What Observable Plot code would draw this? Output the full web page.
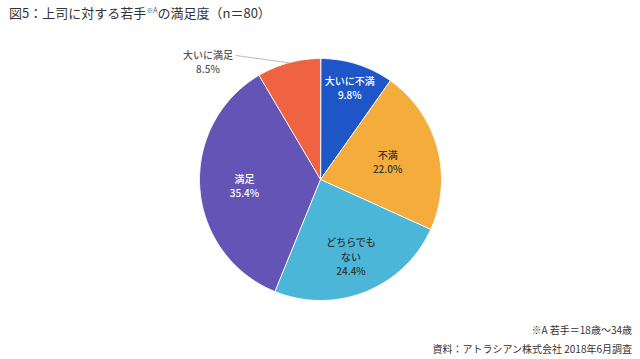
<!DOCTYPE html>
<html>
<head>
<meta charset="utf-8">
<script src="https://cdn.jsdelivr.net/npm/d3@7"></script>
<script src="https://cdn.jsdelivr.net/npm/@observablehq/plot@0.6"></script>
<style>
  html, body { margin: 0; padding: 0; background: #fff; }
  body { width: 640px; height: 359px; position: relative; overflow: hidden;
         font-family: "Noto Sans CJK JP", "Noto Sans", sans-serif; color: #333; }
  #chart { position: absolute; left: 0; top: 0; }
  #title { position: absolute; left: 9px; top: 3px; font-size: 13px; color: #333; white-space: nowrap; }
  #title sup { font-size: 7px; vertical-align: 5px; color: #555; }
  #caption { position: absolute; right: 8px; top: 320px; font-size: 10px; line-height: 19px; text-align: right; color: #333; }
</style>
</head>
<body>
<div id="chart"></div>
<div id="title">図5：上司に対する若手<sup>※A</sup>の満足度（n＝80）</div>
<div id="caption">※A 若手＝18歳〜34歳<br>資料：アトラシアン株式会社 2018年6月調査</div>
<script>
// ---- data ----
const categories = ["大いに不満", "不満", "どちらでもない", "満足", "大いに満足"];
const values = [9.8, 22.0, 24.4, 35.4, 8.5];
const labelLines = [["大いに不満"], ["不満"], ["どちらでも", "ない"], ["満足"], ["大いに満足"]];
const colors = ["#1f56c7", "#f4ad3c", "#4cb6d9", "#6354b6", "#ef6342"];

// ---- layout constants (not data) ----
const W = 640, H = 359, cx = 320, cy = 179, R = 121;
const labelRadius = [0.80, 0.575, 0.68, 0.63, null]; // fraction of radius for inside labels
const textColors = ["#fff", "#333", "#333", "#fff", "#555"];
const outsideLabelPos = {x: -0.93, y: 0.975};
const leaderStart = {x: -0.70, y: 1.025};

const arcs = d3.pie().sort(null).value(d => d)(values);

// pie slice polygons
const slicePts = [];
arcs.forEach((a, i) => {
  slicePts.push({key: categories[i], x: 0, y: 0});
  const n = Math.max(2, Math.ceil((a.endAngle - a.startAngle) / (Math.PI / 360)));
  for (let k = 0; k <= n; k++) {
    const t = a.startAngle + (a.endAngle - a.startAngle) * k / n;
    slicePts.push({key: categories[i], x: Math.sin(t), y: Math.cos(t)});
  }
});

// labels
const labels = arcs.map((a, i) => {
  const mid = (a.startAngle + a.endAngle) / 2;
  const text = labelLines[i].join("\n") + "\n" + values[i].toFixed(1) + "%";
  if (labelRadius[i] == null) {
    return {text, x: outsideLabelPos.x, y: outsideLabelPos.y, color: textColors[i]};
  }
  const r = labelRadius[i];
  return {text, x: r * Math.sin(mid), y: r * Math.cos(mid), color: textColors[i]};
});

const outIdx = 4;
const outMid = (arcs[outIdx].startAngle + arcs[outIdx].endAngle) / 2;
const leader = [
  {x: leaderStart.x, y: leaderStart.y},
  {x: Math.sin(outMid), y: Math.cos(outMid)}
];

const plot = Plot.plot({
  width: W,
  height: H,
  margin: 0,
  x: {domain: [-cx / R, (W - cx) / R], axis: null},
  y: {domain: [-(H - cy) / R, cy / R], axis: null},
  color: {domain: categories, range: colors},
  style: {fontFamily: '"Noto Sans CJK JP", "Noto Sans", sans-serif', background: "transparent"},
  marks: [
    Plot.line(slicePts, {x: "x", y: "y", z: "key", fill: "key", stroke: "#fff", strokeWidth: 1, curve: "linear-closed", strokeLinejoin: "round"}),
    Plot.line(leader, {x: "x", y: "y", stroke: "#bbb", strokeWidth: 1}),
    Plot.text(labels, {x: "x", y: "y", text: "text", fill: "color", fontSize: 10, fontWeight: 500, lineHeight: 1.45, textAnchor: "middle", lineAnchor: "middle"})
  ]
});
document.getElementById("chart").appendChild(plot);
</script>
</body>
</html>
